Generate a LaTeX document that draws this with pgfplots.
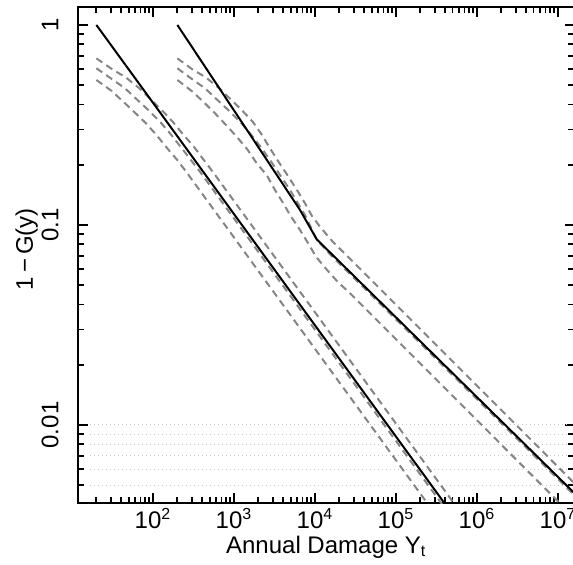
\documentclass[border=0pt]{standalone}
\usepackage{pgfplots}
\pgfplotsset{compat=1.18}
\usepackage{fontspec}
\setmainfont{Liberation Sans}
\definecolor{dashgray}{gray}{0.52}
\definecolor{gridgray}{gray}{0.78}
\begin{document}
\begin{tikzpicture}
\begin{axis}[
  xmode=log, ymode=log,
  scale only axis, width=248.25pt, height=248.15pt,
  xmin=11.86, xmax=1.6e7, ymin=0.00406, ymax=1.23,
  xtick={1e2,1e3,1e4,1e5,1e6,1e7},
  xticklabels={10\textsuperscript{2},10\textsuperscript{3},10\textsuperscript{4},10\textsuperscript{5},10\textsuperscript{6},10\textsuperscript{7}},
  minor xtick={20,30,40,50,60,70,80,90,200,300,400,500,600,700,800,900,
    2000,3000,4000,5000,6000,7000,8000,9000,20000,30000,40000,50000,60000,70000,80000,90000,
    200000,300000,400000,500000,600000,700000,800000,900000,
    2000000,3000000,4000000,5000000,6000000,7000000,8000000,9000000},
  ytick={0.01,0.1,1}, yticklabels={0.01,0.1,1},
  minor ytick={0.005,0.006,0.007,0.008,0.009,0.02,0.03,0.04,0.05,0.06,0.07,0.08,0.09,
    0.2,0.3,0.4,0.5,0.6,0.7,0.8,0.9},
  tick align=inside, xtick pos=both, ytick pos=both,
  major tick length=5pt, minor tick length=3.2pt,
  every tick/.style={black, line width=0.9pt},
  axis line style={line width=1.1pt},
  every tick label/.append style={font=\fontsize{12}{14}\selectfont, inner sep=0pt},
  xticklabel style={anchor=base, yshift=-12.6pt},
  yticklabel style={xshift=-9.8pt, rotate=90, anchor=base},
  every axis x label/.style={at={(axis description cs:0.5,0)}, yshift=-25pt, anchor=base,
    font=\fontsize{12}{14}\selectfont},
  every axis y label/.style={at={(axis description cs:0,0.5)}, xshift=-22.5pt, yshift=3pt, rotate=90, anchor=base,
    font=\fontsize{12}{14}\selectfont},
  xlabel={Annual Damage Y\textsubscript{t}},
  ylabel={1\,−\,G(y)},
]
\coordinate (SW) at (rel axis cs:0,0);
% faint reference lines
\addplot[gridgray, line width=0.5pt, dash pattern=on 0.5pt off 1.5pt] coordinates {(16.7,0.010)(1.26e7,0.010)};
\addplot[gridgray, line width=0.5pt, dash pattern=on 0.5pt off 1.5pt] coordinates {(16.7,0.009)(1.26e7,0.009)};
\addplot[gridgray, line width=0.5pt, dash pattern=on 0.5pt off 1.5pt] coordinates {(16.7,0.008)(1.26e7,0.008)};
\addplot[gridgray, line width=0.5pt, dash pattern=on 0.5pt off 1.5pt] coordinates {(16.7,0.007)(1.26e7,0.007)};
\addplot[gridgray, line width=0.5pt, dash pattern=on 0.5pt off 1.5pt] coordinates {(16.7,0.006)(1.26e7,0.006)};
\addplot[gridgray, line width=0.5pt, dash pattern=on 0.5pt off 1.5pt] coordinates {(16.7,0.005)(1.26e7,0.005)};

% first set: dashed bands
\addplot[dashgray, line width=1pt, dash pattern=on 3.6pt off 2.4pt] coordinates {
  (20,0.681)(31.4,0.6005)(46.0,0.5475)(67.8,0.4826)(93.7,0.425)(127.9,0.3758)
  (175,0.3284)(232.6,0.2851)(314.5,0.2483)(545.8,0.1847)(1e6,0.00282)};
\addplot[dashgray, line width=1pt, dash pattern=on 3.6pt off 2.4pt] coordinates {
  (20,0.6075)(31.4,0.535)(45.1,0.4826)(63.0,0.425)(87.5,0.3758)(122,0.3284)
  (162.2,0.2874)(215.4,0.2483)(380,0.1847)(1e6,0.00231)};
\addplot[dashgray, line width=1pt, dash pattern=on 3.6pt off 2.4pt] coordinates {
  (20,0.531)(30.9,0.4677)(42.9,0.4136)(60.0,0.3642)(81.9,0.3225)(113,0.2786)
  (150.1,0.2417)(199.5,0.2113)(265.2,0.1814)(1e6,0.00185)};

% second set: dashed bands
\addplot[dashgray, line width=1pt, dash pattern=on 3.6pt off 2.4pt] coordinates {
  (200,0.681)(305.6,0.6005)(447.3,0.5475)(658.4,0.4826)(910.6,0.425)(1245,0.3758)
  (1702,0.3284)(2217,0.2818)(2782,0.2417)(3698,0.2018)(4681,0.1748)(5995,0.1496)
  (7522,0.1284)(9183,0.1109)(11527,0.0980)(16822,0.0819)(23468,0.0718)(3.30e7,0.00381)};
\addplot[dashgray, line width=1pt, dash pattern=on 3.6pt off 2.4pt] coordinates {
  (200,0.6075)(305.6,0.535)(438.5,0.4826)(611.7,0.425)(850.4,0.3758)(1186,0.3284)
  (1576,0.2874)(2094,0.2483)(2782,0.2113)(4913,0.1496)(7522,0.1122)(10586,0.0841)
  (16078,0.0700)(3.30e7,0.003334)};
\addplot[dashgray, line width=1pt, dash pattern=on 3.6pt off 2.4pt] coordinates {
  (200,0.531)(300.5,0.4677)(417.8,0.4136)(582.9,0.3617)(796.5,0.3162)(1080,0.2763)
  (1460,0.2390)(1906,0.2035)(2533,0.1778)(3208,0.1496)(4062,0.1284)(4913,0.1122)
  (6529,0.0944)(8199,0.0813)(10287,0.0694)(14065,0.0596)(19396,0.0516)(27050,0.0456)
  (3.30e7,0.002559)};

% fitted curves
\addplot[black, line width=1pt] coordinates {(20,1)(1e6,0.00243)};
\addplot[black, line width=1pt] coordinates {(200,1)(6531,0.1189)(10500,0.0848)(2e7,0.00417)};
\end{axis}
\pgfresetboundingbox
\path ([xshift=-39pt,yshift=-30.85pt]SW) rectangle ([xshift=247.5pt,yshift=251.65pt]SW);
\end{tikzpicture}
\end{document}
